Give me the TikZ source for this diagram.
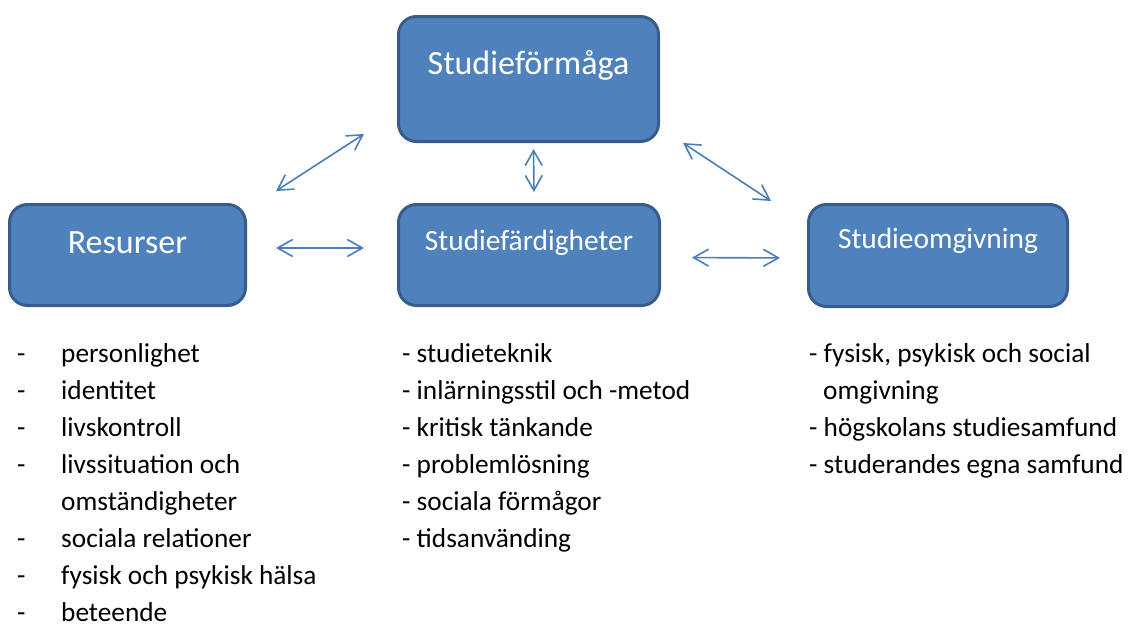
\documentclass[tikz,border=0pt]{standalone}
\usepackage{fontspec}
\setmainfont{Carlito}
\usetikzlibrary{arrows.meta}

\definecolor{boxfill}{HTML}{4F81BD}
\definecolor{boxline}{HTML}{385D8A}
\definecolor{linkcol}{HTML}{4A7EBB}

\tikzset{
  box/.style={rectangle, rounded corners=18pt, draw=boxline, fill=boxfill,
    line width=3pt, text=white, inner sep=0pt, anchor=base},
  bigtxt/.style={font=\fontsize{34}{40}\selectfont},
  smalltxt/.style={font=\fontsize{29.4}{34}\selectfont},
  link/.style={draw=linkcol, line width=1.6pt,
    {Straight Barb[length=15pt,width=17pt]}-{Straight Barb[length=15pt,width=17pt]}},
  item/.style={anchor=base west, inner sep=0pt, text=black,
    font=\fontsize{27.3}{32}\selectfont},
}

\begin{document}
\begin{tikzpicture}[x=1pt, y=-1pt]
\useasboundingbox (0,0) rectangle (1132,629);

% main boxes (positioned at the text baseline)
\node[box, bigtxt, minimum width=260pt, text height=57.5pt, text depth=67.5pt]
  (form) at (528.5,74) {Studieförmåga};
\node[box, bigtxt, minimum width=236pt, text height=48.5pt, text depth=52.5pt]
  (res) at (127.5,253) {Resurser};
\node[box, smalltxt, minimum width=261pt, text height=45.5pt, text depth=55.5pt]
  (fard) at (529,250) {Studiefärdigheter};
\node[box, smalltxt, minimum width=259pt, text height=43.5pt, text depth=58.5pt]
  (omg) at (938,248) {Studieomgivning};

% double-headed links between the boxes
\draw[link] ([shift={(29pt,12pt)}]res.north east) -- ([shift={(-33pt,9pt)}]form.south west);
\draw[link] ([shift={(23pt,0pt)}]form.south east) -- ([shift={(-36pt,2pt)}]omg.north west);
\draw[link, shorten <=6pt, shorten >=11pt] ([xshift=5pt]form.south) -- ([xshift=5pt]fard.north);
\draw[link, shorten <=29pt, shorten >=33pt] ([yshift=7pt]res.east) -- ([yshift=7pt]fard.west);
\draw[link, shorten <=31pt, shorten >=27pt] ([yshift=-2.5pt]fard.east) -- ([yshift=-2.5pt]omg.west);

% resources list
\foreach \t [count=\i from 0] in {personlighet, identitet, livskontroll, livssituation och} {
  \node[item] (rd\i) at (17, 362+37.1*\i) {-};
  \node[item] (rt\i) at (61, 362+37.1*\i) {\t};
}
\node[item] (rt4) at (61, 510.4) {omständigheter};
\foreach \t [count=\i from 5] in {sociala relationer, fysisk och psykisk hälsa, beteende} {
  \node[item] (rd\i) at (17, 362+37.1*\i) {-};
  \node[item] (rt\i) at (61, 362+37.1*\i) {\t};
}

% study skills list
\foreach \t [count=\i from 0] in {studieteknik, inlärningsstil och -metod, kritisk tänkande,
    problemlösning, sociala förmågor, tidsanvänding} {
  \node[item] (ft\i) at (402, 362+37.1*\i) {- \t};
}

% study environment list
\node[item] (ot0) at (809, 362) {- fysisk, psykisk och social};
\node[item] (ot1) at (823, 399.1) {omgivning};
\node[item] (ot2) at (809, 436.2) {- högskolans studiesamfund};
\node[item] (ot3) at (809, 473.3) {- studerandes egna samfund};
\end{tikzpicture}
\end{document}
